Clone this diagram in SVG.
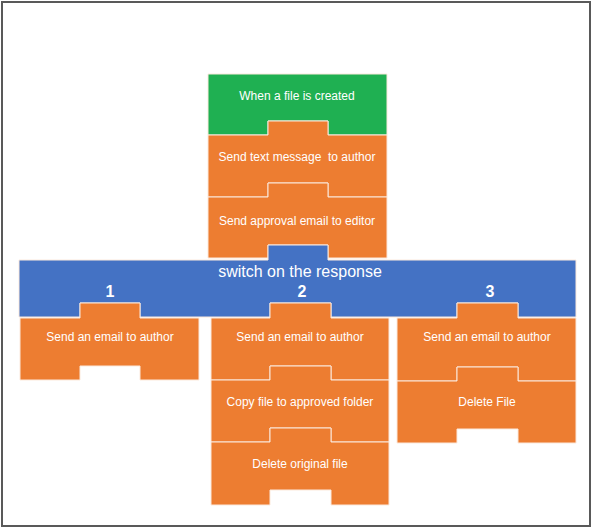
<svg xmlns="http://www.w3.org/2000/svg" width="592" height="529" viewBox="0 0 592 529">
<style>
.blk{stroke:#fbe9dc;stroke-width:1;stroke-linejoin:miter}
.g{fill:#1fb052}
.o{fill:#ed7d31}
.b{fill:#4472c4}
.t{font-family:"Liberation Sans",Arial,sans-serif;font-size:12px;fill:#ffffff;text-anchor:middle}
.s{font-family:"Liberation Sans",Arial,sans-serif;font-size:16px;fill:#ffffff;text-anchor:middle}
.n{font-family:"Liberation Sans",Arial,sans-serif;font-size:16px;font-weight:bold;fill:#ffffff;text-anchor:middle}
</style>
<rect x="0" y="0" width="592" height="529" fill="#ffffff"/>
<rect x="2" y="2" width="588" height="524" fill="none" stroke="#595959" stroke-width="2"/>
<g id="connectors"></g>
<g id="trigger">
<path class="blk g" d="M208,74 H387 V135 H328 V121 H268 V135 H208 Z"/>
<text class="t" x="297" y="100">When a file is created</text>
</g>
<g id="sendText">
<path class="blk o" d="M208,135 H268 V121 H328 V135 H387 V197 H328 V183 H268 V197 H208 Z"/>
<text class="t" x="297" y="161" xml:space="preserve">Send text message  to author</text>
</g>
<g id="sendApproval">
<path class="blk o" d="M208,197 H268 V183 H328 V197 H387 V258 H328 V245 H268 V258 H208 Z"/>
<text class="t" x="297" y="225">Send approval email to editor</text>
</g>
<g id="switch">
<path class="blk b" d="M19,260 H268 V245 H328 V260 H576 V317 H518 V303 H457 V317 H331 V303 H270 V317 H140 V303 H80 V317 H19 Z"/>
<text class="s" x="300" y="277">switch on the response</text>
<text class="n" x="110" y="297">1</text>
<text class="n" x="302" y="297">2</text>
<text class="n" x="490" y="297">3</text>
</g>
<g id="c1email">
<path class="blk o" d="M20,318 H80 V303 H140 V318 H199 V380 H140 V366 H80 V380 H20 Z"/>
<text class="t" x="110" y="341">Send an email to author</text>
</g>
<g id="c2email">
<path class="blk o" d="M211,318 H270 V303 H331 V318 H389 V380 H331 V366 H270 V380 H211 Z"/>
<text class="t" x="300" y="341">Send an email to author</text>
</g>
<g id="c2copy">
<path class="blk o" d="M211,380 H270 V366 H331 V380 H389 V442 H331 V428 H270 V442 H211 Z"/>
<text class="t" x="300" y="406">Copy file to approved folder</text>
</g>
<g id="c2delete">
<path class="blk o" d="M211,442 H270 V428 H331 V442 H389 V505 H331 V490 H270 V505 H211 Z"/>
<text class="t" x="300" y="468">Delete original file</text>
</g>
<g id="c3email">
<path class="blk o" d="M397,318 H457 V303 H518 V318 H576 V381 H518 V367 H457 V381 H397 Z"/>
<text class="t" x="487" y="341">Send an email to author</text>
</g>
<g id="c3delete">
<path class="blk o" d="M397,381 H457 V367 H518 V381 H576 V443 H518 V429 H457 V443 H397 Z"/>
<text class="t" x="487" y="406">Delete File</text>
</g>
</svg>
